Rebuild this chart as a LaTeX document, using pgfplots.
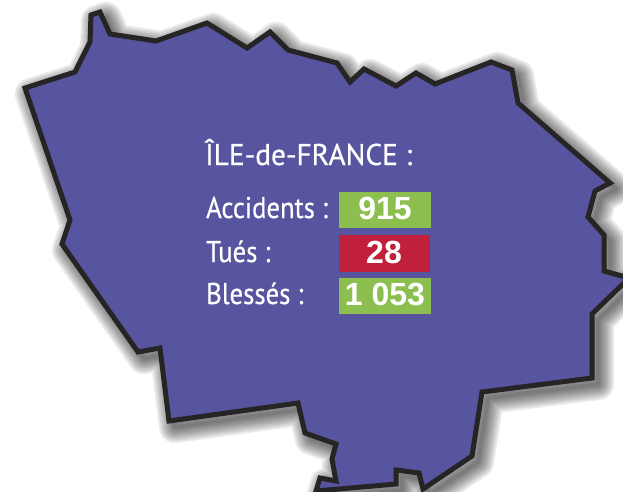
\documentclass[border=0pt]{standalone}
\usepackage{fontspec}
\setmainfont{PT Sans}
\newfontfamily\labelfont{PT Sans}[FakeBold=0.5]
\newfontfamily\numfont{Liberation Sans}[BoldFont={Liberation Sans Bold}]
\usepackage{pgfplots}
\usepackage{pgfplotstable}
\pgfplotsset{compat=1.18}

\definecolor{regionfill}{HTML}{5855A0}
\definecolor{regionline}{HTML}{262425}
\definecolor{okgreen}{HTML}{8DBF50}
\definecolor{badred}{HTML}{C1203D}

\tikzset{
    shadow layer/.style={draw=black, fill=none, opacity=0.085, line join=round},
    box/.style={draw=none, fill=#1},
    rowlabel/.style={anchor=base west, text=white, font=\labelfont\fontsize{30}{36}\selectfont, inner sep=0pt, xscale=0.89},
    rowvalue/.style={anchor=base, text=white, font=\numfont\bfseries\fontsize{32}{36}\selectfont, inner sep=0pt},
}

% outline of the region, in picture pixels
\pgfplotstableread{
x y
25 88
75 72
90 42
91 15
100 12
110 34
156 41
207 23
247 48
270 32
288 50
337 63
350 82
364 69
396 86
416 73
435 84
491 62
512 70
518 103
610 183
595 191
588 217
604 235
604 271
629 278
592 314
592 378
482 392
472 456
423 489
419 473
396 470
396 484
316 491
320 478
336 481
332 459
336 444
305 433
298 403
169 421
160 348
138 352
62 244
70 220
}\mapoutline

\begin{document}
\begin{tikzpicture}
\begin{axis}[
    name=map,
    scale only axis,
    width=623pt, height=491pt,
    xmin=0, xmax=623,
    ymin=0, ymax=491,
    y dir=reverse,
    hide axis,
    clip=true,
]
    % soft drop shadow, strokes only so that the layers fade evenly
    \pgfplotsinvokeforeach{32,28,24,20,16,12,8,4}{
        \addplot[shadow layer, line width=#1pt] table[x expr=\thisrow{x}+6, y expr=\thisrow{y}+6] {\mapoutline} -- cycle;
    }
    \addplot[draw=regionline, fill=regionfill, line width=5pt, line join=miter, miter limit=6] table[x=x, y=y] {\mapoutline} -- cycle;

    \addplot[box=okgreen] coordinates {(339,192) (431,192) (431,228) (339,228)} -- cycle;
    \addplot[box=badred] coordinates {(339,235) (430,235) (430,272) (339,272)} -- cycle;
    \addplot[box=okgreen] coordinates {(339,278) (431,278) (431,314) (339,314)} -- cycle;

    \node[rowlabel, xscale=1.1] at (axis cs:205,165) {ÎLE-de-FRANCE :};
    \node[rowlabel] at (axis cs:206,218) {Accidents :};
    \node[rowlabel] at (axis cs:206,262) {Tués :};
    \node[rowlabel] at (axis cs:206,304) {Blessés :};

    \node[rowvalue] at (axis cs:385,219) {915};
    \node[rowvalue] at (axis cs:384,263) {28};
    \node[rowvalue] at (axis cs:385,305) {1 053};
\end{axis}
% keep the page to the axis box, the shadow layers run past it
\pgfresetboundingbox
\path[use as bounding box] (map.south west) rectangle (map.north east);
\end{tikzpicture}
\end{document}
